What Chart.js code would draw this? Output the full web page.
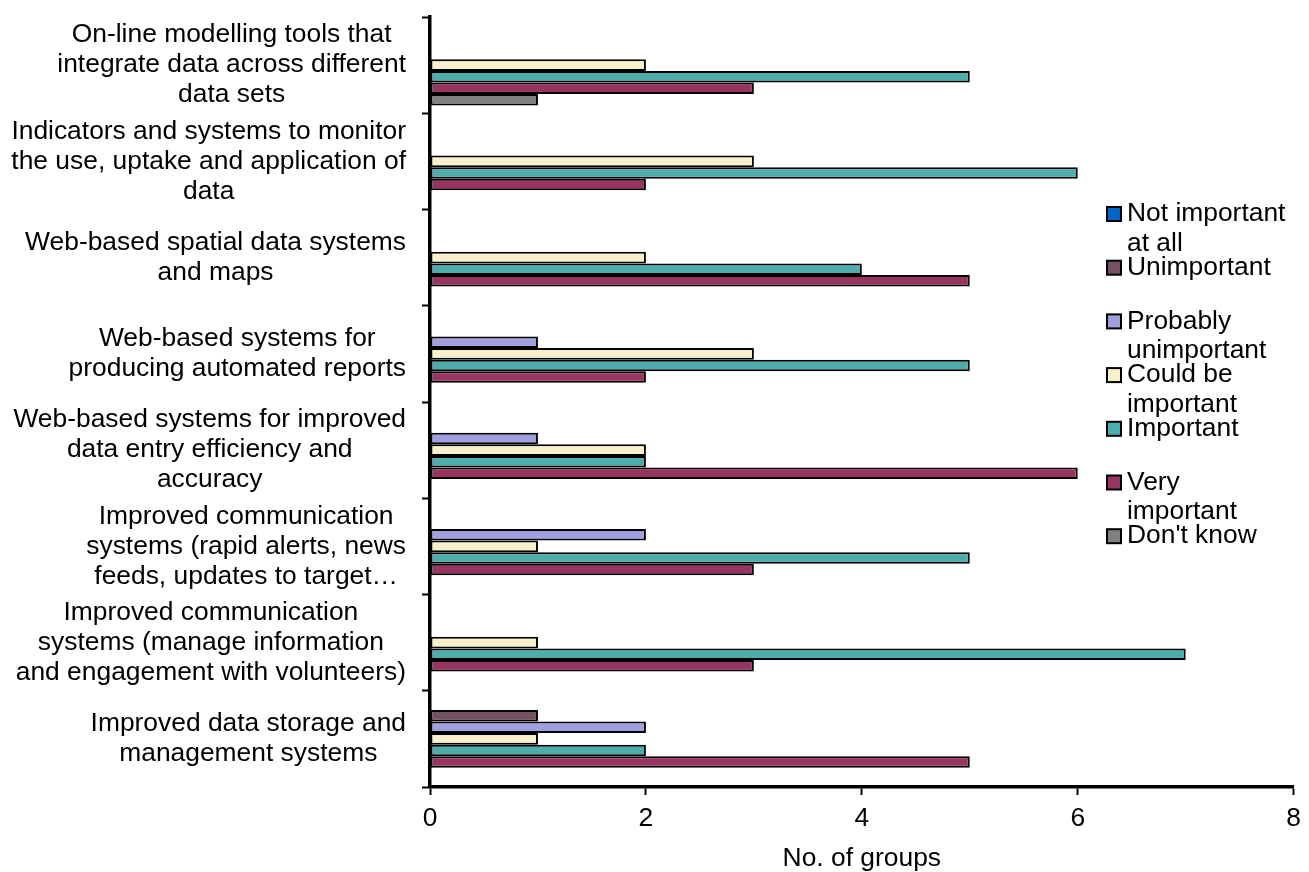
<!DOCTYPE html>
<html>
<head>
<meta charset="utf-8">
<script src="https://cdn.jsdelivr.net/npm/chart.js@4.4.1/dist/chart.umd.min.js"></script>
<style>
html,body{margin:0;padding:0;background:#fff;}
#wrap{position:relative;width:1309px;height:872px;}
</style>
</head>
<body>
<div id="wrap"><canvas id="c"></canvas></div>
<script>
// ---- data ----
const categories = [
  ["On-line modelling tools that", "integrate data across different", "data sets"],
  ["Indicators and systems to monitor", "the use, uptake and application of", "data"],
  ["Web-based spatial data systems", "and maps"],
  ["Web-based systems for", "producing automated reports"],
  ["Web-based systems for improved", "data entry efficiency and", "accuracy"],
  ["Improved communication", "systems (rapid alerts, news", "feeds, updates to target…"],
  ["Improved communication", "systems (manage information", "and engagement with volunteers)"],
  ["Improved data storage and", "management systems"]
];
const seriesNames = [
  ["Not important", "at all"],
  ["Unimportant"],
  ["Probably", "unimportant"],
  ["Could be", "important"],
  ["Important"],
  ["Very", "important"],
  ["Don't know"]
];
const notImportantAtAll   = [0, 0, 0, 0, 0, 0, 0, 0];
const unimportant         = [0, 0, 0, 0, 0, 0, 0, 1];
const probablyUnimportant = [0, 0, 0, 1, 1, 2, 0, 2];
const couldBeImportant    = [2, 3, 2, 3, 2, 1, 1, 1];
const important           = [5, 6, 4, 5, 2, 5, 7, 2];
const veryImportant       = [3, 2, 5, 2, 6, 3, 3, 5];
const dontKnow            = [1, 0, 0, 0, 0, 0, 0, 0];
const xTicks = [0, 2, 4, 6, 8];
const axisTitle = "No. of groups";

// ---- styles ----
const seriesColors = ["#0066CC", "#745262", "#A0A0E0", "#FAEFCB", "#4DADAC", "#993361", "#808080"];
const FAMILY = "'Liberation Sans', Arial, sans-serif";
const FSIZE = 26.4;
const FONT = FSIZE + "px " + FAMILY;
const LABEL_RIGHT = 406;
const LABEL_LH = 30;
const LEG = {boxX: 1107, boxS: 14, textX: 1127, y0: 214, step: 53.7, lh: 29.5};

const seriesValues = [notImportantAtAll, unimportant, probablyUnimportant, couldBeImportant, important, veryImportant, dontKnow];

const datasets = seriesValues.map((vals, i) => ({
  label: seriesNames[i].join(" "),
  data: vals,
  backgroundColor: seriesColors[i],
  borderColor: "#000",
  borderWidth: 2,
  borderSkipped: false,
  barPercentage: 1.0,
  categoryPercentage: 0.84
}));

const drawPlugin = {
  id: "customText",
  afterDraw(chart) {
    const ctx = chart.ctx;
    const ys = chart.scales.y;
    ctx.save();
    ctx.font = FONT;
    ctx.fillStyle = "#000";
    ctx.textBaseline = "middle";
    ctx.textAlign = "center";
    categories.forEach((lines, i) => {
      const y = ys.getPixelForValue(i);
      const w = Math.max(...lines.map(l => ctx.measureText(l).width));
      const cx = LABEL_RIGHT - w / 2;
      lines.forEach((l, j) => {
        ctx.fillText(l, cx, y + (j - (lines.length - 1) / 2) * LABEL_LH);
      });
    });
    // legend
    ctx.textAlign = "left";
    seriesNames.forEach((lines, i) => {
      const y = LEG.y0 + i * LEG.step;
      ctx.fillStyle = seriesColors[i];
      ctx.fillRect(LEG.boxX, y - LEG.boxS / 2, LEG.boxS, LEG.boxS);
      ctx.lineWidth = 2;
      ctx.strokeStyle = "#000";
      ctx.strokeRect(LEG.boxX, y - LEG.boxS / 2, LEG.boxS, LEG.boxS);
      ctx.fillStyle = "#000";
      lines.forEach((l, j) => ctx.fillText(l, LEG.textX, y + j * LEG.lh));
    });
    ctx.restore();
  }
};

new Chart(document.getElementById("c"), {
  type: "bar",
  data: { labels: categories.map(l => l.join(" ")), datasets },
  options: {
    indexAxis: "y",
    responsive: true,
    maintainAspectRatio: false,
    animation: false,
    layout: { padding: { top: 17, right: 15, left: 0, bottom: 0 } },
    plugins: { legend: { display: false }, tooltip: { enabled: false } },
    scales: {
      x: {
        min: 0, max: 8,
        afterBuildTicks(s) { s.ticks = xTicks.map(v => ({ value: v })); },
        ticks: { color: "#000", font: { family: FAMILY, size: FSIZE }, padding: 8, maxRotation: 0 },
        grid: { drawOnChartArea: false, drawTicks: true, tickLength: 8, tickWidth: 2, tickColor: "#000", color: "#000" },
        border: { display: true, width: 3.5, color: "#000" },
        title: { display: true, text: axisTitle, color: "#000", font: { family: FAMILY, size: FSIZE, lineHeight: 1 }, padding: { top: 0, bottom: 0 } },
        afterFit(s) { s.height = 85; }
      },
      y: {
        ticks: { display: false },
        grid: { drawOnChartArea: false, drawTicks: true, tickLength: 8, tickWidth: 2, tickColor: "#000", color: "#000", offset: true },
        border: { display: true, width: 3.5, color: "#000" },
        afterFit(s) { s.width = 430; }
      }
    }
  },
  plugins: [drawPlugin]
});
</script>
</body>
</html>
